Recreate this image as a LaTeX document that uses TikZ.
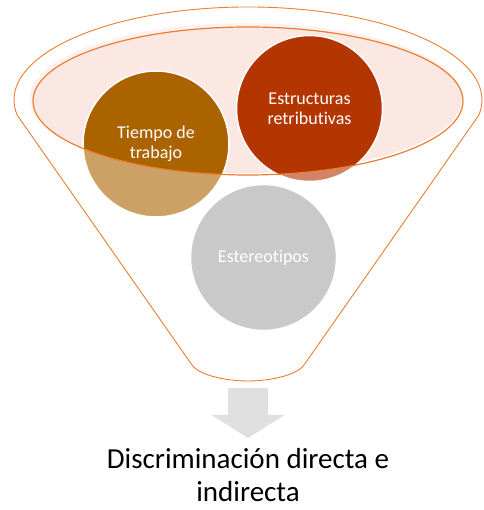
\documentclass[tikz,border=0pt]{standalone}
\usepackage{fontspec}
\setmainfont{Carlito}[Ligatures=NoCommon]
\definecolor{funnelline}{HTML}{ED7D31}
\definecolor{rimfill}{HTML}{FBE8E3}
\definecolor{tiempocol}{HTML}{AB6300}
\definecolor{estructcol}{HTML}{B33500}
\definecolor{estereocol}{HTML}{A5A5A5}
\definecolor{arrowgray}{HTML}{E0E0E0}
\newcommand{\funnelpath}{(17.1,395) arc[start angle=189.3, end angle=-9.3, x radius=234, y radius=93] -- (304,145) .. controls (297,135) and (271,129) .. (248,129) .. controls (225,129) and (199,135) .. (192,145) -- cycle}

\begin{document}
\begin{tikzpicture}[x=1pt,y=1pt]
	\tikzstyle{every node}+=[inner sep=0pt]
	\tikzstyle{bubble}=[circle, minimum size=146pt, draw=white, line width=1.5pt, text=white, align=center, font=\fontsize{18}{20}\selectfont]
	\useasboundingbox (0,0) rectangle (483,510);
	\fill [rimfill] (246,412) ellipse [x radius=216, y radius=75];
	\node [bubble, fill=tiempocol] (tiempo) at (156,366) {Tiempo de\\trabajo};
	\node [bubble, fill=estructcol] (estruct) at (309.5,401.5) {Estructuras\\retributivas};
	\node [bubble, fill=estereocol] (estereo) at (263.5,252.5) {Estereotipos};
	\fill [white, fill opacity=0.4, even odd rule] \funnelpath (248,409) ellipse [x radius=215, y radius=74];
	\draw [funnelline, line width=1.2pt] (248,409) ellipse [x radius=215, y radius=74];
	\draw [funnelline, line width=0.9pt] \funnelpath;
	\fill [arrowgray] (228,122) -- (228,95) -- (211.5,95) -- (248,72) -- (284.5,95) -- (268,95) -- (268,122) -- cycle;
	\node [align=center, font=\fontsize{29}{33}\selectfont] (result) at (248,34.5) {Discriminación directa e\\indirecta};
\end{tikzpicture}
\end{document}
